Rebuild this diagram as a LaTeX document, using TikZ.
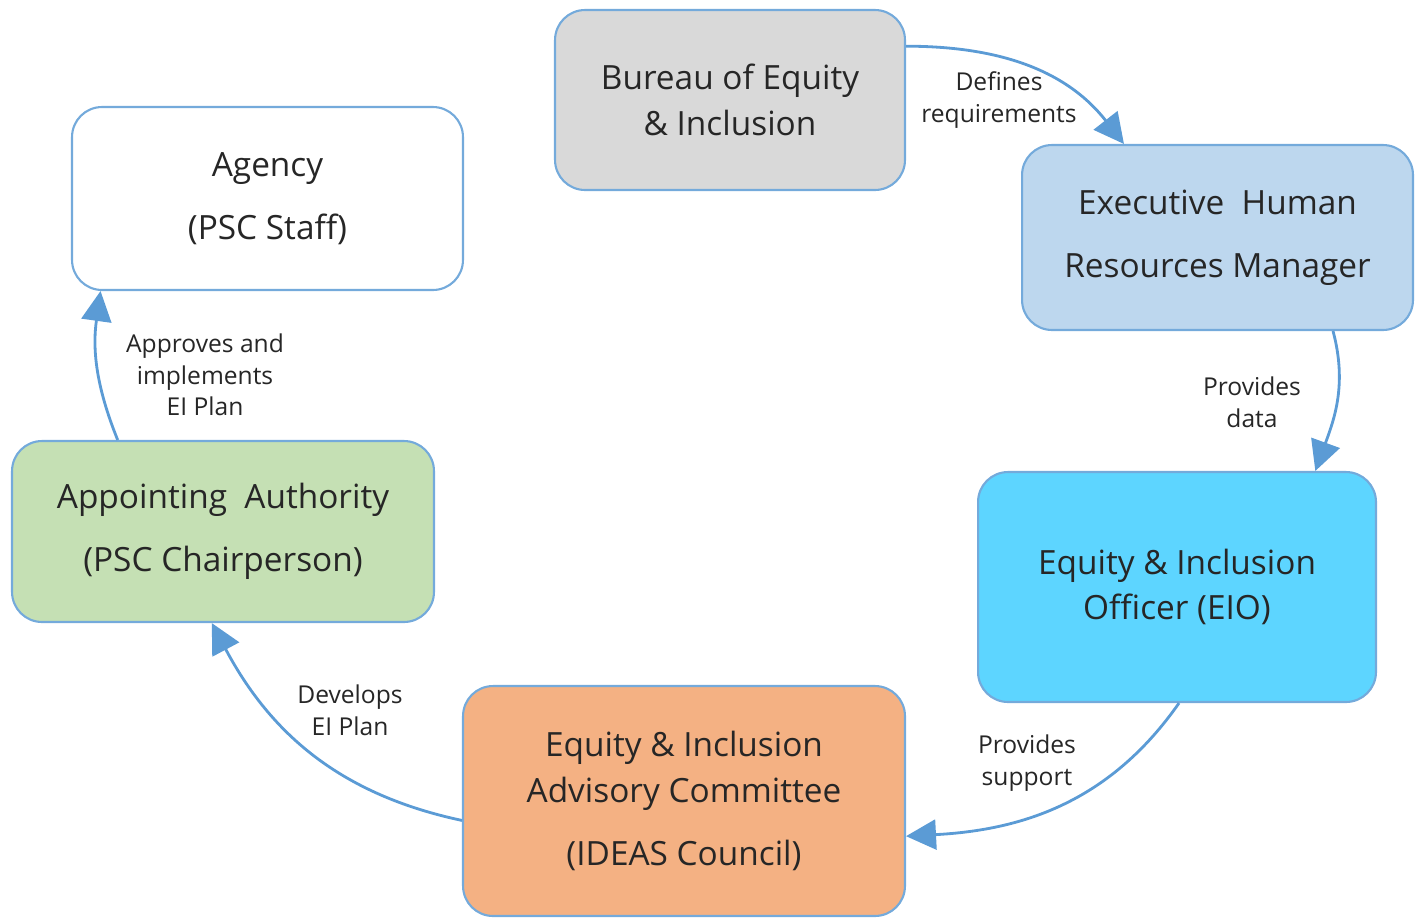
\documentclass[tikz,border=0pt]{standalone}
\usepackage{fontspec}
\setmainfont{Open Sans}
\usetikzlibrary{arrows.meta}
\definecolor{edgeblue}{HTML}{5B9BD5}
\definecolor{txtgray}{HTML}{262626}
\tikzset{
    box/.style={draw=edgeblue!85, line width=1.2pt, rounded corners=0.6cm, align=center,
        text=txtgray, font=\fontsize{19}{26}\selectfont},
    flow/.style={-{Triangle[length=0.6cm, width=0.6cm]}, draw=edgeblue, line width=1.6pt},
    note/.style={align=center, text=txtgray, font=\fontsize{14}{18}\selectfont}
}

\begin{document}
\begin{tikzpicture}[x=0.02cm, y=-0.02cm]
    \useasboundingbox (0,0) rectangle (1425,917);
    % The six parties
    \node[box, fill=black!15, minimum width=7cm, minimum height=3.6cm] (bureau) at (730,100)
        {Bureau of Equity\\ \& Inclusion};
    \node[box, fill=white, minimum width=7.82cm, minimum height=3.66cm] (agency) at (267.5,198.5)
        {Agency\\[10pt] (PSC Staff)};
    \node[box, fill={rgb,255:red,189;green,215;blue,238}, minimum width=7.82cm, minimum height=3.7cm] (ehrm) at (1217.5,237.5)
        {Executive\ \ Human\\[10pt] Resources Manager};
    \node[box, fill={rgb,255:red,93;green,213;blue,255}, minimum width=7.96cm, minimum height=4.6cm] (eio) at (1177,587)
        {Equity \& Inclusion\\ Officer (EIO)};
    \node[box, fill={rgb,255:red,244;green,177;blue,131}, minimum width=8.84cm, minimum height=4.6cm] (council) at (684,801)
        {Equity \& Inclusion\\ Advisory Committee\\[10pt] (IDEAS Council)};
    \node[box, fill={rgb,255:red,197;green,224;blue,180}, minimum width=8.44cm, minimum height=3.62cm] (authority) at (223,531.5)
        {Appointing\ \ Authority\\[10pt] (PSC Chairperson)};
    % Cycle of responsibilities
    \draw[flow] (bureau.17.7) to[out=0, in=128] (ehrm.135.3);
    \draw[flow] (ehrm.-39) to[out=-75, in=70] (eio.40.2);
    \draw[flow] (eio.-89) to[out=-125, in=3] (council.-9.5);
    \draw[flow] (council.185.7) to[out=168, in=-62] (authority.263.7);
    \draw[flow] (authority.139.7) to[out=112, in=-98] (agency.209.6);
    % Labels
    \node[note] (defines) at (999,100) {Defines\\ requirements};
    \node[note] (data) at (1252,402) {Provides\\ data};
    \node[note] (support) at (1027,763) {Provides\\ support};
    \node[note] (develops) at (350,710) {Develops\\ EI Plan};
    \node[note] (approves) at (205,375) {Approves and\\ implements\\ EI Plan};
\end{tikzpicture}
\end{document}
